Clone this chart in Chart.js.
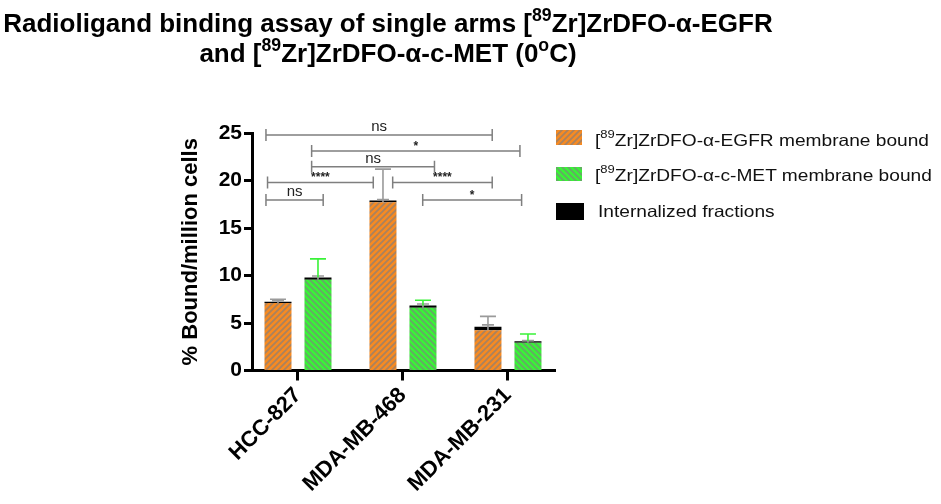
<!DOCTYPE html>
<html>
<head>
<meta charset="utf-8">
<script src="https://cdn.jsdelivr.net/npm/chart.js@4"></script>
<style>
  html,body{margin:0;padding:0;background:#fff;}
  #wrap{position:relative;width:941px;height:504px;overflow:hidden;font-family:"Liberation Sans",Arial,sans-serif;}
  #c{position:absolute;left:0;top:0;}
  .t{position:absolute;left:0;width:776px;text-align:center;font-weight:bold;font-size:26px;color:#000;white-space:nowrap;line-height:1;}
  .t sup,.lg sup{font-size:0.68em;position:relative;top:-0.1em;line-height:0;vertical-align:super;}
  .lg{position:absolute;font-size:16.5px;color:#111;white-space:nowrap;line-height:1;transform:scaleX(1.16);transform-origin:0 0;}
  .sw{position:absolute;}
</style>
</head>
<body>
<div id="wrap">
  <canvas id="c" width="941" height="504"></canvas>
  <div class="t" style="top:10px;">Radioligand binding assay of single arms [<sup>89</sup>Zr]ZrDFO-α-EGFR</div>
  <div class="t" style="top:40px;">and [<sup>89</sup>Zr]ZrDFO-α-c-MET (0<sup>o</sup>C)</div>
  <canvas class="sw" id="sw0" width="26" height="15" style="left:556px;top:130px;"></canvas>
  <canvas class="sw" id="sw1" width="26" height="14" style="left:556px;top:167px;"></canvas>
  <canvas class="sw" id="sw2" width="28" height="17" style="left:556px;top:203px;"></canvas>
  <div class="lg" style="left:595px;top:132px;">[<sup>89</sup>Zr]ZrDFO-α-EGFR membrane bound</div>
  <div class="lg" style="left:595px;top:167px;">[<sup>89</sup>Zr]ZrDFO-α-c-MET membrane bound</div>
  <div class="lg" style="left:598px;top:203px;">Internalized fractions</div>
</div>
<script>
// ---- data ----
const categories = ["HCC-827", "MDA-MB-468", "MDA-MB-231"];
const egfrMembrane = [7.1, 17.7, 4.25];
const egfrInternal = [0.15, 0.2, 0.35];
const metMembrane = [9.55, 6.6, 2.92];
const metInternal = [0.25, 0.25, 0.15];
const egfrErrorTop = [7.5, 21.2, 5.7];
const metErrorTop = [11.75, 7.4, 3.85];
const egfrInternalErrTop = [7.35, 18.0, 4.8];
const metInternalErrTop = [9.95, 7.0, 3.15];
const yTicks = [0, 5, 10, 15, 20, 25];
// significance brackets (x in category-index units, y in data units)
const bracketX1 = [-0.305, 0.13, 0.13, -0.29, 0.902, -0.305, 1.188];
const bracketX2 = [1.85, 2.114, 1.30, 0.717, 1.85, 0.24, 2.13];
const bracketY = [24.8, 23.1, 21.45, 19.8, 19.8, 17.95, 17.95];
const bracketLabel = ["ns", "*", "ns", "****", "****", "ns", "*"];

// ---- patterns ----
function hatch(base, stripe, dir) {
  const c = document.createElement('canvas'); c.width = c.height = 6;
  const g = c.getContext('2d');
  g.fillStyle = base; g.fillRect(0, 0, 6, 6);
  g.strokeStyle = stripe; g.lineWidth = 1.7;
  g.beginPath();
  if (dir > 0) {
    g.moveTo(-1, 7); g.lineTo(7, -1); g.moveTo(-4, 4); g.lineTo(4, -4); g.moveTo(2, 10); g.lineTo(10, 2);
  } else {
    g.moveTo(-1, -1); g.lineTo(7, 7); g.moveTo(-4, 2); g.lineTo(4, 10); g.moveTo(2, -4); g.lineTo(10, 4);
  }
  g.stroke();
  return document.getElementById('c').getContext('2d').createPattern(c, 'repeat');
}
const orangeFill = hatch('#F68A22', '#A8825F', 1);
const greenFill = hatch('#3AF238', '#66A866', -1);

// legend swatches
[[ 'sw0', orangeFill ], [ 'sw1', greenFill ], [ 'sw2', '#000' ]].forEach(([id, f]) => {
  const cv = document.getElementById(id), g = cv.getContext('2d');
  g.fillStyle = f; g.fillRect(0, 0, cv.width, cv.height);
});

const toXY = arr => arr.map((v, i) => ({ x: i, y: v }));

const overlay = {
  id: 'overlay',
  afterDatasetsDraw(chart) {
    const ctx = chart.ctx, xs = chart.scales.x, ys = chart.scales.y;
    const barX = (ds, i) => chart.getDatasetMeta(ds).data[i].x;
    function err(x, yTop, yTopVal, color, cap) {
      const y0 = ys.getPixelForValue(yTopVal), y1 = ys.getPixelForValue(yTop);
      ctx.strokeStyle = color; ctx.lineWidth = 1.6;
      ctx.beginPath();
      ctx.moveTo(x, y0); ctx.lineTo(x, y1);
      ctx.moveTo(x - cap, y1); ctx.lineTo(x + cap, y1);
      ctx.stroke();
    }
    ctx.save();
    for (let i = 0; i < categories.length; i++) {
      const xo = barX(1, i), xg = barX(3, i);
      const to = egfrMembrane[i] + egfrInternal[i], tg = metMembrane[i] + metInternal[i];
      err(xo, egfrInternalErrTop[i], egfrMembrane[i], '#9a9a9a', 6);
      err(xo, egfrErrorTop[i], to, '#9a9a9a', 8);
      err(xg, metInternalErrTop[i], metMembrane[i], '#9a9a9a', 6);
      err(xg, metErrorTop[i], tg, '#3AF238', 8);
    }
    // brackets
    ctx.strokeStyle = '#7f7f7f'; ctx.lineWidth = 1.5;
    ctx.fillStyle = '#222';
    ctx.textAlign = 'center';
    for (let k = 0; k < bracketLabel.length; k++) {
      const x1 = xs.getPixelForValue(bracketX1[k]), x2 = xs.getPixelForValue(bracketX2[k]);
      const y = ys.getPixelForValue(bracketY[k]);
      ctx.beginPath();
      ctx.moveTo(x1, y); ctx.lineTo(x2, y);
      ctx.moveTo(x1, y - 6); ctx.lineTo(x1, y + 6);
      ctx.moveTo(x2, y - 6); ctx.lineTo(x2, y + 6);
      ctx.stroke();
      const lab = bracketLabel[k];
      ctx.textBaseline = 'alphabetic';
      if (lab === 'ns') {
        ctx.font = '15px "Liberation Sans", Arial, sans-serif';
        ctx.fillText(lab, (x1 + x2) / 2, y - 4);
      } else {
        ctx.font = 'bold 12px "Liberation Sans", Arial, sans-serif';
        ctx.fillText(lab, (x1 + x2) / 2, y - 1);
      }
    }
    ctx.restore();
  }
};

new Chart(document.getElementById('c'), {
  type: 'bar',
  data: {
    datasets: [
      { label: 'EGFR membrane', data: toXY(egfrMembrane), backgroundColor: orangeFill, stack: 'egfr' },
      { label: 'EGFR internalized', data: toXY(egfrInternal), backgroundColor: '#000', stack: 'egfr' },
      { label: 'MET membrane', data: toXY(metMembrane), backgroundColor: greenFill, stack: 'met' },
      { label: 'MET internalized', data: toXY(metInternal), backgroundColor: '#000', stack: 'met' }
    ]
  },
  options: {
    responsive: false,
    animation: false,
    events: [],
    categoryPercentage: 0.762,
    barPercentage: 0.675,
    layout: { padding: { left: 178, top: 133, right: 386, bottom: 0 } },
    plugins: { legend: { display: false }, tooltip: { enabled: false } },
    scales: {
      x: {
        type: 'linear',
        offset: false,
        stacked: true,
        min: -0.438, max: 2.448,
        afterBuildTicks: s => { s.ticks = categories.map((c, i) => ({ value: i })); },
        afterFit: s => { s.height = 504 - 370.5; },
        ticks: {
          callback: v => categories[v],
          color: '#000',
          font: { family: '"Liberation Sans", Arial, sans-serif', size: 22, weight: 'bold' },
          maxRotation: 45, minRotation: 45, padding: 2
        },
        grid: { offset: false, drawOnChartArea: false, tickLength: 10, tickColor: '#000', tickWidth: 3 },
        border: { color: '#000', width: 3 }
      },
      y: {
        stacked: true,
        min: 0, max: 25,
        afterBuildTicks: s => { s.ticks = yTicks.map(v => ({ value: v })); },
        afterFit: s => { s.width = 252 - 178; },
        ticks: {
          color: '#000',
          font: { family: '"Liberation Sans", Arial, sans-serif', size: 21, weight: 'bold' },
          padding: 2
        },
        grid: { drawOnChartArea: false, tickLength: 8, tickColor: '#000', tickWidth: 3 },
        border: { color: '#000', width: 3 },
        title: {
          display: true, text: '% Bound/million cells', color: '#000',
          font: { family: '"Liberation Sans", Arial, sans-serif', size: 22, weight: 'bold' },
          padding: { top: 0, bottom: 0 }
        }
      }
    }
  },
  plugins: [overlay]
});
</script>
</body>
</html>
